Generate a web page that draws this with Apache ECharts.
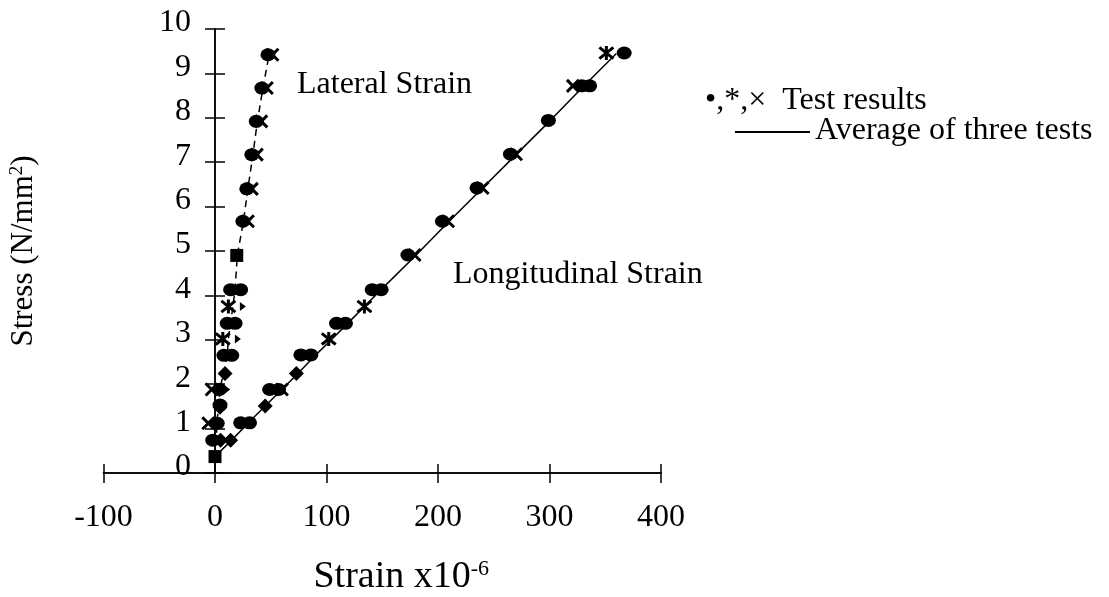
<!DOCTYPE html>
<html>
<head>
<meta charset="utf-8">
<script src="https://cdn.jsdelivr.net/npm/echarts@6/dist/echarts.min.js"></script>
<style>html,body{margin:0;padding:0;background:#fff}#c{width:1109px;height:597px}</style>
</head>
<body>
<div id="c"></div>
<script>
// ---- axis ranges / ticks ----
const xRange = [-100, 400];
const xStep = 100;
const yRange = [0, 10];
const yStep = 1;

// ---- lateral strain test points [strain x1e-6, stress N/mm2] ----
const latCircles = [[-2,0.74],[2,1.12],[4.5,1.53],[4,1.88],[8,2.65],[15,2.65],[11,3.37],[18,3.37],[14,4.13],[23,4.13],[25,5.67],[28.5,6.4],[33,7.17],[37,7.92],[42,8.67],[47.5,9.42]];
const latCrosses = [[-6,1.12],[-3,1.88],[29.5,5.67],[33,6.4],[37.5,7.17],[41.5,7.92],[46.5,8.67],[51.5,9.42]];
const latAsterisks = [[7,3.02],[12,3.75]];
const latTriangles = [[11,1.88],[20.5,3.02],[25,3.75]];
const latSquares = [[0,0.37],[19.5,4.9]];
const latDiamonds = [[5,0.74],[4.5,1.48],[9,2.24]];
const latAverage = [[0,0.37],[2,0.74],[1,1.12],[4,1.51],[4,1.88],[8,2.26],[11,2.65],[12,3.02],[14,3.37],[16,3.75],[18,4.13],[20,4.9],[25.5,5.67],[29.5,6.4],[34,7.17],[38,7.92],[43,8.67],[48.5,9.42]];

// ---- longitudinal strain test points ----
const longCircles = [[23,1.13],[31,1.13],[49,1.88],[57,1.88],[77,2.66],[86,2.66],[109,3.37],[117,3.37],[141,4.13],[149,4.13],[173,4.91],[204,5.67],[235,6.42],[265,7.18],[299,7.94],[329,8.72],[336,8.72],[367,9.46]];
const longCrosses = [[60,1.88],[179,4.91],[209,5.67],[240,6.42],[270,7.18],[321,8.72]];
const longAsterisks = [[102,3.02],[134,3.75],[351,9.46]];
const longDiamonds = [[14,0.74],[45,1.51],[73,2.24]];
const longAverage = [[0,0.37],[15,0.74],[30,1.13],[45,1.51],[60,1.88],[75,2.26],[90,2.65],[105,3.02],[119,3.37],[134,3.75],[149,4.13],[180,4.9],[210,5.67],[240,6.42],[270,7.17],[300,7.92],[329,8.67],[360,9.45]];

// ---- texts ----
const xTitle = 'Strain x10{sup|-6}';
const yTitle = 'Stress (N/mm{sup|2})';
const lateralText = 'Lateral Strain';
const longText = 'Longitudinal Strain';
const legendTest = '\u2022,*,\u00d7  Test results';
const legendAvg = 'Average of three tests';

const FONT = '"Liberation Serif", "Times New Roman", Times, serif';
const INK = '#000';

const ASTERISK = 'path://M1,1L9,9M9,1L1,9M5,0L5,10';
const CROSS = 'path://M0,0L10,10M10,0L0,10';

function pts(name, data, symbol, size, extra) {
  return Object.assign({
    name: name, type: 'scatter', data: data, symbol: symbol, symbolSize: size,
    itemStyle: { color: INK, opacity: 1 }, silent: true, z: 5
  }, extra || {});
}
const strokeStyle = { color: 'rgba(0,0,0,0)', borderColor: INK, borderWidth: 3, opacity: 1 };

const chart = echarts.init(document.getElementById('c'), null, { renderer: 'canvas' });
chart.setOption({
  animation: false,
  backgroundColor: '#fff',
  grid: { left: 103.5, right: 448, top: 29, bottom: 124, containLabel: false, outerBoundsMode: 'none' },
  xAxis: [
    {
      type: 'value', min: xRange[0], max: xRange[1], interval: xStep, position: 'bottom',
      axisLine: { onZero: true, lineStyle: { color: INK, width: 1.5 } },
      axisTick: { show: true, length: 10, lineStyle: { color: INK, width: 1.5 } },
      axisLabel: { margin: 29, fontSize: 32, fontFamily: FONT, color: INK },
      splitLine: { show: false },
      name: xTitle, nameLocation: 'middle', nameGap: 85,
      nameTextStyle: { fontSize: 38, fontFamily: FONT, color: INK, padding: [0, 0, 0, 38],
        rich: { sup: { fontSize: 22, fontFamily: FONT, color: INK, verticalAlign: 'top' } } }
    },
    {
      type: 'value', min: xRange[0], max: xRange[1], interval: xStep, position: 'bottom',
      axisLine: { onZero: true, lineStyle: { color: INK, width: 1.5 } },
      axisTick: { show: true, inside: true, length: 9, lineStyle: { color: INK, width: 1.5 } },
      axisLabel: { show: false }, splitLine: { show: false }
    }
  ],
  yAxis: [
    {
      type: 'value', min: yRange[0], max: yRange[1], interval: yStep, position: 'left',
      axisLine: { onZero: true, lineStyle: { color: INK, width: 1.5 } },
      axisTick: { show: true, length: 10, lineStyle: { color: INK, width: 1.5 } },
      axisLabel: { margin: -87.5, fontSize: 32, fontFamily: FONT, color: INK, align: 'right',
        verticalAlign: 'bottom', lineHeight: 12 },
      splitLine: { show: false },
      name: yTitle, nameLocation: 'middle', nameGap: 64.5, nameRotate: 90,
      nameTextStyle: { fontSize: 31, fontFamily: FONT, color: INK,
        rich: { sup: { fontSize: 19, fontFamily: FONT, color: INK, verticalAlign: 'top' } } }
    },
    {
      type: 'value', min: yRange[0], max: yRange[1], interval: yStep, position: 'left',
      axisLine: { onZero: true, lineStyle: { color: INK, width: 1.5 } },
      axisTick: { show: true, inside: true, length: 10, lineStyle: { color: INK, width: 1.5 } },
      axisLabel: { show: false }, splitLine: { show: false }
    }
  ],
  series: [
    { name: 'Average of three tests', type: 'line', data: latAverage, showSymbol: false, symbol: 'none',
      lineStyle: { color: INK, width: 1.5, type: [7, 5] }, silent: true, z: 2 },
    { name: 'Average of three tests', type: 'line', data: longAverage, showSymbol: false, symbol: 'none',
      lineStyle: { color: INK, width: 1.5 }, silent: true, z: 2 },
    pts('Test results', latDiamonds.concat(longDiamonds), 'diamond', 15),
    pts('Test results', latSquares, 'rect', 13),
    pts('Test results', latCircles.concat(longCircles), 'circle', [15, 13]),
    pts('Test results', latCrosses.concat(longCrosses), CROSS, 12, { itemStyle: strokeStyle }),
    pts('Test results', latAsterisks.concat(longAsterisks), ASTERISK, 14, { itemStyle: strokeStyle }),
    pts('Test results', latTriangles, 'triangle', [9, 6], { symbolRotate: -90 })
  ],
  graphic: [
    { type: 'text', x: 297, y: 85, style: { text: lateralText, font: '32px ' + FONT, fill: INK, verticalAlign: 'middle', align: 'left' } },
    { type: 'text', x: 453, y: 275, style: { text: longText, font: '32px ' + FONT, fill: INK, verticalAlign: 'middle', align: 'left' } },
    { type: 'text', x: 705, y: 101, style: { text: legendTest, font: '32px ' + FONT, fill: INK, verticalAlign: 'middle', align: 'left' } },
    { type: 'line', shape: { x1: 735, y1: 132, x2: 810, y2: 132 }, style: { stroke: INK, lineWidth: 2 } },
    { type: 'text', x: 815, y: 131, style: { text: legendAvg, font: '32px ' + FONT, fill: INK, verticalAlign: 'middle', align: 'left' } }
  ]
});
</script>
</body>
</html>
